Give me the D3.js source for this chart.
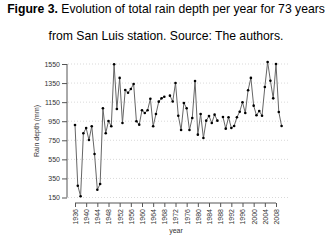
<!DOCTYPE html>
<html>
<head>
<meta charset="utf-8">
<script src="https://cdn.jsdelivr.net/npm/d3@7"></script>
<style>
  body { margin: 0; background: #fff; }
  svg { display: block; font-family: "Liberation Sans", Arial, sans-serif; }
</style>
</head>
<body>
<svg id="chart" width="333" height="246"></svg>
<script>
// yearly totals, San Luis station (null = year missing)
const years = [1936, 1937, 1938, 1939, 1940, 1941, 1942, 1943, 1944, 1945,
  1946, 1947, 1948, 1949, 1950, 1951, 1952, 1953, 1954, 1955,
  1956, 1957, 1958, 1959, 1960, 1961, 1962, 1963, 1964, 1965,
  1966, 1967, 1968, 1969, 1970, 1971, 1972, 1973, 1974, 1975,
  1976, 1977, 1978, 1979, 1980, 1981, 1982, 1983, 1984, 1985,
  1986, 1987, 1988, 1989, 1990, 1991, 1992, 1993, 1994, 1995,
  1996, 1997, 1998, 1999, 2000, 2001, 2002, 2003, 2004, 2005,
  2006, 2007, 2008, 2009, 2010];
const rain = [910, 274, 163, 823, 879, 753, 897, 606, 232, 292,
  1086, 823, 952, 897, 1547, 1078, 1404, 931, 1278, 1249,
  1288, 1341, 949, 914, 1065, 1036, 1065, 1186, 897, 1026,
  1155, 1190, 1207, null, 1218, 1157, 1351, 1008, 858, 1141,
  1086, 858, 984, 1372, 809, 1026, 774, 956, 1005, 931,
  1019, 956, null, 994, 872, 991, 879, 900, 991, 1050,
  1149, 1036, 1275, 1404, 1113, 1012, 1057, 1008, 1309, 1571,
  1375, 1190, 1550, 1047, 900];

const yTicks = [150, 350, 550, 750, 950, 1150, 1350, 1550];
const xTicks = [1936, 1940, 1944, 1948, 1952, 1956, 1960, 1964, 1968, 1972,
  1976, 1980, 1984, 1988, 1992, 1996, 2000, 2004, 2008];

const svg = d3.select("svg#chart");

// title
const title = svg.append("text")
  .attr("x", 166).attr("y", 13)
  .attr("text-anchor", "middle")
  .attr("font-size", "12.2px")
  .attr("fill", "#000");
title.append("tspan").attr("font-weight", "bold").text("Figure 3.");
title.append("tspan").text(" Evolution of total rain depth per year for 73 years");

svg.append("text")
  .attr("x", 166).attr("y", 40)
  .attr("text-anchor", "middle")
  .attr("font-size", "12.2px")
  .text("from San Luis station. Source: The authors.");

var x = d3.scaleLinear().domain([1936, 2008]).range([75, 276]);
var y = d3.scaleLinear().domain([150, 1550]).range([197.5, 64]);

// grid
svg.append("g")
  .selectAll("line")
  .data(yTicks)
  .join("line")
  .attr("x1", 68).attr("x2", 289)
  .attr("y1", d => y(d)).attr("y2", d => y(d))
  .attr("stroke", "#cfcfcf")
  .attr("stroke-width", 0.8)
  .attr("stroke-dasharray", "1,2");

// y axis
const yAxis = svg.append("g")
  .attr("transform", "translate(67,0)")
  .call(d3.axisLeft(y).tickValues(yTicks).tickSize(5).tickPadding(2).tickFormat(d3.format("d")));
yAxis.select(".domain").attr("stroke", "#555").attr("d", `M0,${y(150)}V${y(1550)}`);
yAxis.selectAll(".tick line").attr("stroke", "#555");
yAxis.selectAll("text").attr("font-size", "7px").attr("fill", "#333")
  .attr("font-family", "Liberation Sans, Arial, sans-serif");

// x axis
const xAxis = svg.append("g")
  .attr("transform", "translate(0,203)")
  .call(d3.axisBottom(x).tickValues(xTicks).tickSize(4).tickFormat(d3.format("d")));
xAxis.select(".domain").attr("stroke", "#555").attr("d", `M${x(1936)},0H${x(2008)}`);
xAxis.selectAll(".tick line").attr("stroke", "#555");
xAxis.selectAll("text")
  .attr("font-size", "7px").attr("fill", "#333")
  .attr("font-family", "Liberation Sans, Arial, sans-serif")
  .attr("transform", "rotate(-90)")
  .attr("text-anchor", "end")
  .attr("x", -6).attr("y", 0).attr("dy", "0.35em");

// axis titles
svg.append("text")
  .attr("transform", "translate(39,131) rotate(-90)")
  .attr("text-anchor", "middle")
  .attr("font-size", "7px").attr("fill", "#333")
  .text("Rain depth (mm)");

svg.append("text")
  .attr("x", 176).attr("y", 233)
  .attr("text-anchor", "middle")
  .attr("font-size", "7px").attr("fill", "#333")
  .text("year");

// series
const pts = years.map((yr, i) => ({ year: yr, v: rain[i] }));

const line = d3.line()
  .defined(d => d.v != null)
  .x(d => x(d.year))
  .y(d => y(d.v));

svg.append("path")
  .datum(pts)
  .attr("d", line)
  .attr("fill", "none")
  .attr("stroke", "#666")
  .attr("stroke-width", 1);

svg.append("g")
  .selectAll("circle")
  .data(pts.filter(d => d.v != null))
  .join("circle")
  .attr("cx", d => x(d.year))
  .attr("cy", d => y(d.v))
  .attr("r", 1.3)
  .attr("fill", "#000");
</script>
</body>
</html>
